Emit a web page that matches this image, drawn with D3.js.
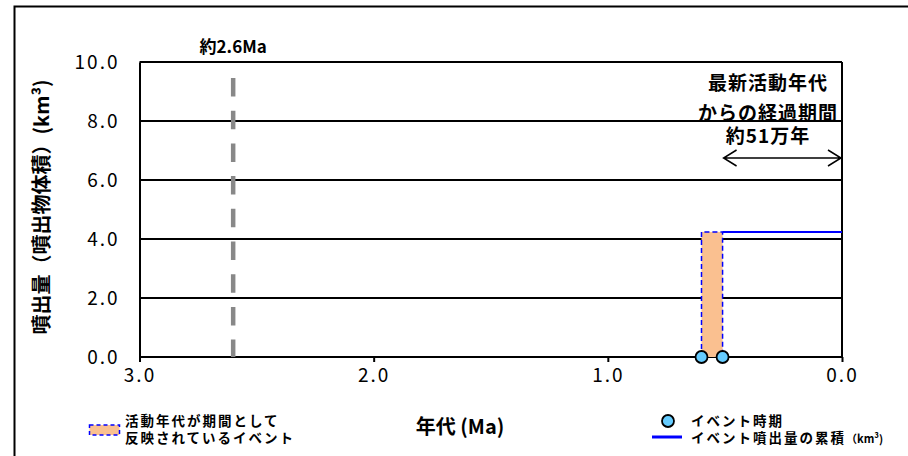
<!DOCTYPE html>
<html><head><meta charset="utf-8">
<script src="https://cdn.jsdelivr.net/npm/d3@7"></script>
<style>
body{margin:0;background:#fff;}
text{font-family:"Noto Sans CJK JP","Noto Sans",sans-serif;}
</style></head>
<body><svg id="c" width="908" height="456"></svg>
<script>
// Data
const yTicks = [0, 2, 4, 6, 8, 10];
const xTicks = [3, 2, 1, 0];
const eventAges = [0.60, 0.51];          // Ma
const periodStart = 0.60, periodEnd = 0.51;
const cumulativeVolume = 4.24;           // km3
const markerAge = 2.6;                   // 約2.6Ma
const latestAge = 0.51;

const svg = d3.select("#c");
const L = 139.5, R = 842, T = 62, B = 357;
const x = d3.scaleLinear().domain([3, 0]).range([L, R]);
const y = d3.scaleLinear().domain([0, 10]).range([B, T]);

// outer frame (top and left visible)
svg.append("path").attr("d","M14.5,456 L14.5,6.5 L908,6.5").attr("fill","none").attr("stroke","#000").attr("stroke-width",2);

// gridlines
svg.append("g").selectAll("line").data(yTicks.filter(d=>d>0)).join("line")
  .attr("x1",L).attr("x2",R).attr("y1",d=>y(d)).attr("y2",d=>y(d))
  .attr("stroke","#000").attr("stroke-width",2);

const tickFont = "'Liberation Sans Narrow','Noto Sans CJK JP',sans-serif";
// y axis
const yAxis = d3.axisLeft(y).tickValues(yTicks).tickSize(0).tickPadding(20).tickFormat(d3.format(".1f"));
const gy = svg.append("g").attr("transform",`translate(${L},0)`).call(yAxis);
gy.select(".domain").attr("stroke","#000").attr("stroke-width",2);
gy.selectAll("text").attr("font-size",19).attr("fill","#000").attr("font-family",tickFont)
  .attr("dy","0.36em").style("letter-spacing","2px");

// x axis
const xAxis = d3.axisBottom(x).tickValues(xTicks).tickSize(5).tickPadding(7).tickFormat(d3.format(".1f"));
const gx = svg.append("g").attr("transform",`translate(0,${B})`).call(xAxis);
gx.select(".domain").attr("stroke","#000").attr("stroke-width",2).attr("d",`M${L},0H${R}`);
gx.selectAll(".tick line").attr("stroke","#000").attr("stroke-width",2);
gx.selectAll("text").attr("font-size",19).attr("fill","#000").attr("font-family",tickFont)
  .style("letter-spacing","2px");

// right border
svg.append("line").attr("x1",R).attr("x2",R).attr("y1",T).attr("y2",B).attr("stroke","#000").attr("stroke-width",2);

// marker dashed line
svg.append("line").attr("x1",x(markerAge)).attr("x2",x(markerAge)).attr("y1",y(10)+16).attr("y2",B)
  .attr("stroke","#888").attr("stroke-width",4.5).attr("stroke-dasharray","18.5,14.2");
svg.append("text").attr("x",x(markerAge)).attr("y",53).attr("text-anchor","middle")
  .attr("font-size",17).attr("font-weight",700).text("約2.6Ma");

// period bar
svg.append("rect").attr("x",x(periodStart)).attr("y",y(cumulativeVolume))
  .attr("width",x(periodEnd)-x(periodStart)).attr("height",y(0)-y(cumulativeVolume))
  .attr("fill","#FAC090");
// dashed outline of period
svg.append("path")
  .attr("d",`M${x(periodStart)},${y(0)}V${y(cumulativeVolume)}H${x(periodEnd)}V${y(0)}`)
  .attr("fill","none").attr("stroke","#0000FF").attr("stroke-width",1.5).attr("stroke-dasharray","5,3");
// cumulative solid line
svg.append("path").attr("d",d3.line()([[x(periodEnd),y(cumulativeVolume)],[x(0),y(cumulativeVolume)]]))
  .attr("stroke","#0000FF").attr("stroke-width",2).attr("fill","none");

// event points
svg.append("g").selectAll("circle").data(eventAges).join("circle")
  .attr("cx",d=>x(d)).attr("cy",y(0)).attr("r",6)
  .attr("fill","#66CCFF").attr("stroke","#000").attr("stroke-width",1.8);

// latest activity annotation
const annX = 768;
[["最新活動年代",90],["からの経過期間",120],["約51万年",143]].forEach(([t,yy])=>{
  svg.append("text").attr("x",annX).attr("y",yy).attr("text-anchor","middle")
    .attr("font-size",19).attr("font-weight",700).style("letter-spacing","1px").text(t);
});
const ay = 158, ax1 = x(latestAge)+1, ax2 = x(0)-1;
svg.append("path").attr("d",`M${ax1},${ay}H${ax2}M${ax1+13},${ay-8}L${ax1},${ay}L${ax1+13},${ay+8}M${ax2-13},${ay-8}L${ax2},${ay}L${ax2-13},${ay+8}`)
  .attr("fill","none").attr("stroke","#000").attr("stroke-width",1.5);

// axis titles
svg.append("text").attr("transform","translate(49,207) rotate(-90)").attr("text-anchor","middle")
  .attr("font-size",20).attr("font-weight",700).text("噴出量（噴出物体積）(km³)");
svg.append("text").attr("x",460).attr("y",434).attr("text-anchor","middle")
  .attr("font-size",20).attr("font-weight",700).text("年代 (Ma)");

// legend left
svg.append("rect").attr("x",89.5).attr("y",425).attr("width",30).attr("height",10)
  .attr("fill","#FAC090").attr("stroke","#0000FF").attr("stroke-width",1.5).attr("stroke-dasharray","4,3");
svg.append("text").attr("x",125).attr("y",426).attr("font-size",13.5).attr("font-weight",700).style("letter-spacing","2px").text("活動年代が期間として");
svg.append("text").attr("x",125).attr("y",443).attr("font-size",13.5).attr("font-weight",700).style("letter-spacing","2px").text("反映されているイベント");

// legend right
svg.append("circle").attr("cx",668).attr("cy",421).attr("r",6).attr("fill","#66CCFF").attr("stroke","#000").attr("stroke-width",1.8);
svg.append("line").attr("x1",652).attr("x2",682).attr("y1",437).attr("y2",437).attr("stroke","#0000FF").attr("stroke-width",3);
svg.append("text").attr("x",691).attr("y",426).attr("font-size",13.5).attr("font-weight",700).style("letter-spacing","2px").text("イベント時期");
const t2 = svg.append("text").attr("x",691).attr("y",443).attr("font-size",13.5).attr("font-weight",700).style("letter-spacing","2px");
t2.append("tspan").text("イベント噴出量の累積");
t2.append("tspan").attr("font-size",11).style("letter-spacing","0px").text("（km³)");
</script></body></html>
